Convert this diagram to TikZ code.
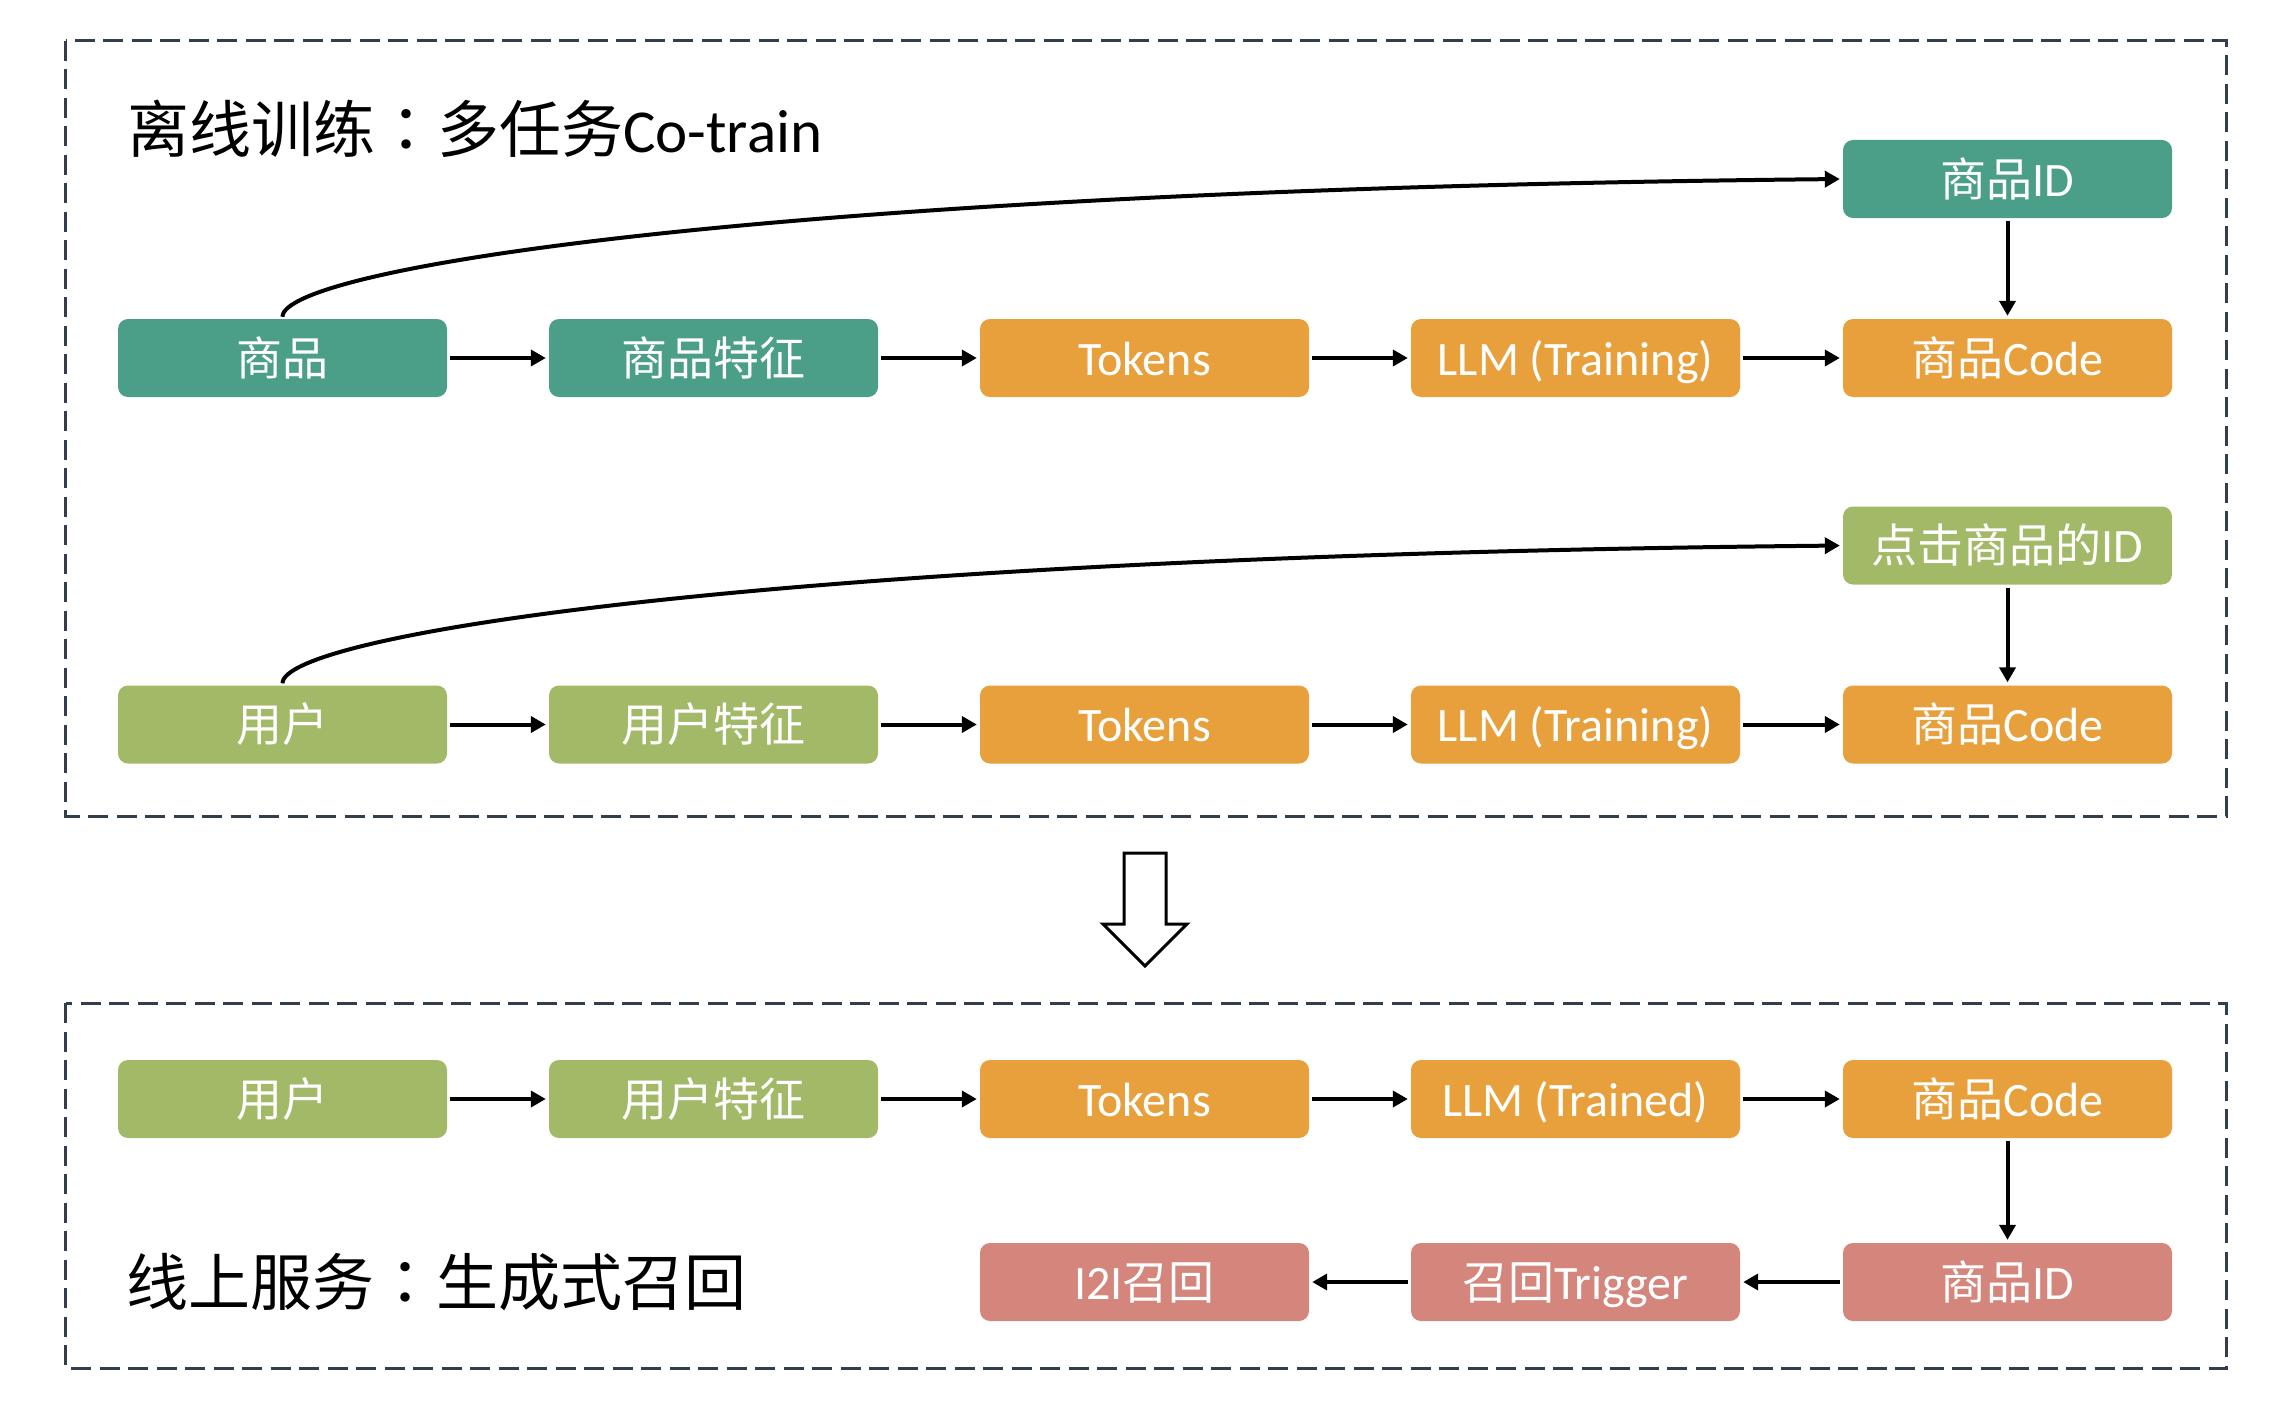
\documentclass[tikz,border=0pt]{standalone}
\usepackage{fontspec}
\setmainfont{Carlito}
\newfontfamily\cjk{Noto Sans CJK SC}
\newfontfamily\cjkjp{Noto Sans CJK JP}
\usetikzlibrary{arrows.meta}
\definecolor{cteal}{RGB}{75,158,136}
\definecolor{cgreen}{RGB}{162,185,104}
\definecolor{corange}{RGB}{231,160,60}
\definecolor{cpink}{RGB}{212,133,124}
\definecolor{cdash}{RGB}{50,62,75}
\newcommand\zb[1]{{\cjk\fontsize{46}{56}\selectfont #1}}
\newcommand\zt[1]{{\cjk\fontsize{62}{72}\selectfont #1}}
\newcommand\zcolon{{\cjkjp\fontsize{62}{72}\selectfont ：}}
\tikzset{
  box/.style={rounded corners=10pt, minimum width=329pt, minimum height=78pt,
    inner sep=0pt, text height=40pt, text depth=6pt, text=white,
    font=\fontsize{48}{56}\selectfont},
  tealbox/.style={box, fill=cteal},
  greenbox/.style={box, fill=cgreen},
  orangebox/.style={box, fill=corange},
  pinkbox/.style={box, fill=cpink},
  link/.style={line width=4pt, -{Triangle[length=15pt,width=16pt]},
    shorten >=3pt, shorten <=3pt},
  curvelink/.style={line width=4pt, -{Triangle[length=15pt,width=16pt]},
    shorten >=3pt},
  frame/.style={draw=cdash, line width=3pt, dash pattern=on 20pt off 8.5pt},
  title/.style={anchor=west, inner sep=0pt, font=\fontsize{61}{72}\selectfont}
}
\begin{document}
\begin{tikzpicture}[x=1pt,y=-1pt]
\useasboundingbox (0,0) rectangle (2280,1402);
% frames
\draw[frame] (65.5,40.7) rectangle (2226,816);
\draw[frame] (65.5,1003) rectangle (2226,1368);
% titles
\node[title] (t1) at (127,129) {\zt{离线训练}\zcolon\zt{多任务}Co-train};
\node[title] (t2) at (126,1282) {\zt{线上服务}\zcolon\zt{生成式召回}};
% row 0
\node[tealbox] (id1) at (2007.5,179) {\zb{商品}ID};
% row 1
\node[tealbox] (a1) at (282.5,358) {\zb{商品}};
\node[tealbox] (a2) at (713.5,358) {\zb{商品特征}};
\node[orangebox] (a3) at (1144.5,358) {Tokens};
\node[orangebox] (a4) at (1575.5,358) {LLM (Training)};
\node[orangebox] (a5) at (2007.5,358) {\zb{商品}Code};
% row 2
\node[greenbox] (id2) at (2007.5,545.5) {\zb{点击商品的}ID};
\node[greenbox] (b1) at (282.5,724.5) {\zb{用户}};
\node[greenbox] (b2) at (713.5,724.5) {\zb{用户特征}};
\node[orangebox] (b3) at (1144.5,724.5) {Tokens};
\node[orangebox] (b4) at (1575.5,724.5) {LLM (Training)};
\node[orangebox] (b5) at (2007.5,724.5) {\zb{商品}Code};
% row 3
\node[greenbox] (c1) at (282.5,1099) {\zb{用户}};
\node[greenbox] (c2) at (713.5,1099) {\zb{用户特征}};
\node[orangebox] (c3) at (1144.5,1099) {Tokens};
\node[orangebox] (c4) at (1575.5,1099) {LLM (Trained)};
\node[orangebox] (c5) at (2007.5,1099) {\zb{商品}Code};
% row 4
\node[pinkbox] (d3) at (1144.5,1282) {I2I\zb{召回}};
\node[pinkbox] (d4) at (1575.5,1282) {\zb{召回}Trigger};
\node[pinkbox] (d5) at (2007.5,1282) {\zb{商品}ID};
% connectors
\foreach \p/\q in {a1/a2,a2/a3,a3/a4,a4/a5,b1/b2,b2/b3,b3/b4,b4/b5,c1/c2,c2/c3,c3/c4,c4/c5,d5/d4,d4/d3,id1/a5,id2/b5,c5/d5}
  \draw[link] (\p) -- (\q);
\draw[curvelink]
  ([yshift=2pt]a1.north) .. controls +(0,-47) and +(-1090,11) .. (id1.west);
\draw[curvelink]
  ([yshift=2pt]b1.north) .. controls +(0,-47) and +(-1090,11) .. (id2.west);
% big hollow arrow
\draw[line width=3pt, fill=white, line join=miter]
  (1124,853) -- (1166,853) -- (1166,924) -- (1187,924) -- (1145,966)
  -- (1103,924) -- (1124,924) -- cycle;
\end{tikzpicture}
\end{document}
